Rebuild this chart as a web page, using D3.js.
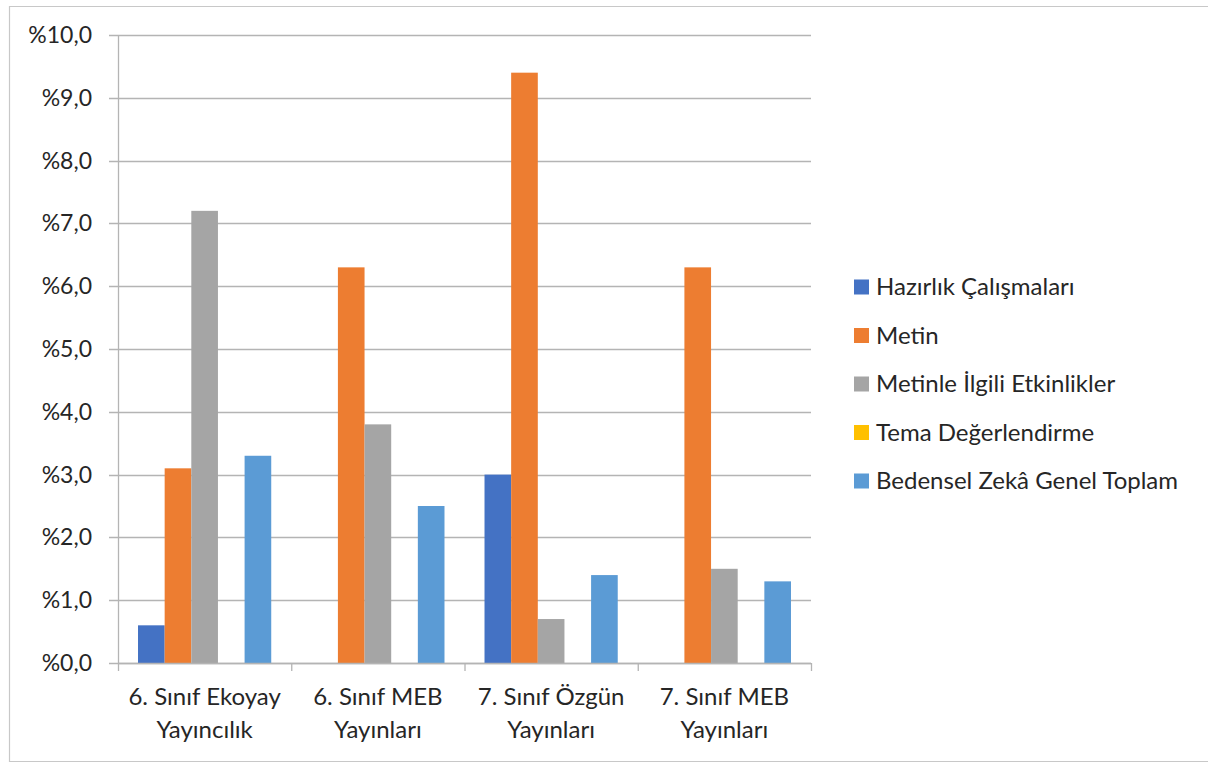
<!DOCTYPE html>
<html>
<head>
<meta charset="utf-8">
<script src="https://cdn.jsdelivr.net/npm/d3@7"></script>
<style>
  html, body { margin: 0; padding: 0; background: #fff; }
  svg { display: block; font-family: Lato, "Open Sans", sans-serif; }
</style>
</head>
<body>
<svg id="chart" width="1208" height="762"></svg>
<script>
// Kitap bazında bedensel zekâ etkinlik oranları (%)
const categories = [
  ["6. Sınıf Ekoyay", "Yayıncılık"],
  ["6. Sınıf MEB", "Yayınları"],
  ["7. Sınıf Özgün", "Yayınları"],
  ["7. Sınıf MEB", "Yayınları"]
];
const seriesNames = [
  "Hazırlık Çalışmaları",
  "Metin",
  "Metinle İlgili Etkinlikler",
  "Tema Değerlendirme",
  "Bedensel Zekâ Genel Toplam"
];
const hazirlik = [0.6, 0, 3.0, 0];
const metin = [3.1, 6.3, 9.4, 6.3];
const metinleIlgili = [7.2, 3.8, 0.7, 1.5];
const temaDegerlendirme = [0, 0, 0, 0];
const genelToplam = [3.3, 2.5, 1.4, 1.3];
const yTicks = [0, 1, 2, 3, 4, 5, 6, 7, 8, 9, 10];
const colors = ["#4472C4", "#ED7D31", "#A5A5A5", "#FFC000", "#5B9BD5"];

const seriesValues = [hazirlik, metin, metinleIlgili, temaDegerlendirme, genelToplam];

const svg = d3.select("#chart");

// outer frame
svg.append("path")
  .attr("d", "M1208,6.5 H9.5 V761.5 H1208")
  .attr("fill", "none")
  .attr("stroke", "#c8c8c8")
  .attr("stroke-width", 1.2);

const plot = { left: 118, right: 811, top: 35, bottom: 663 };

const x = d3.scaleBand()
  .domain(d3.range(categories.length))
  .range([plot.left, plot.right])
  .padding(0);

const groupPad = x.bandwidth() * 0.1155;
const xs = d3.scaleBand()
  .domain(d3.range(seriesNames.length))
  .range([groupPad, x.bandwidth() - groupPad])
  .padding(0);

const y = d3.scaleLinear().domain([0, 10]).range([plot.bottom, plot.top]);

const fmt = v => "%" + d3.format(".1f")(v).replace(".", ",");

// horizontal gridlines
svg.append("g")
  .selectAll("line")
  .data(yTicks)
  .join("line")
  .attr("x1", plot.left - 9)
  .attr("x2", plot.right)
  .attr("y1", d => Math.round(y(d)) + 0.5)
  .attr("y2", d => Math.round(y(d)) + 0.5)
  .attr("stroke", "#b4b4b4")
  .attr("stroke-width", 1.3);

// y axis labels
svg.append("g")
  .selectAll("text")
  .data(yTicks)
  .join("text")
  .attr("x", 92)
  .attr("y", d => y(d))
  .attr("dy", "0.35em")
  .attr("text-anchor", "end")
  .attr("font-size", 23)
  .attr("fill", "#262626")
  .text(fmt);

// vertical axis line
svg.append("line")
  .attr("x1", plot.left + 0.5).attr("x2", plot.left + 0.5)
  .attr("y1", plot.top).attr("y2", plot.bottom)
  .attr("stroke", "#b4b4b4").attr("stroke-width", 1.3);

// bars
const groups = svg.append("g")
  .selectAll("g")
  .data(categories.map((c, i) => i))
  .join("g")
  .attr("transform", i => `translate(${x(i)},0)`);

groups.selectAll("rect")
  .data(i => seriesValues.map((vals, s) => ({ s, v: vals[i] })))
  .join("rect")
  .attr("x", d => xs(d.s))
  .attr("width", xs.bandwidth())
  .attr("y", d => y(d.v))
  .attr("height", d => y(0) - y(d.v))
  .attr("fill", d => colors[d.s]);

// x axis baseline and ticks
svg.append("line")
  .attr("x1", plot.left).attr("x2", plot.right)
  .attr("y1", plot.bottom + 0.5).attr("y2", plot.bottom + 0.5)
  .attr("stroke", "#b4b4b4").attr("stroke-width", 1.3);
svg.append("g")
  .selectAll("line")
  .data(d3.range(categories.length + 1))
  .join("line")
  .attr("x1", i => (i < categories.length ? x(i) : plot.right) + 0.5)
  .attr("x2", i => (i < categories.length ? x(i) : plot.right) + 0.5)
  .attr("y1", plot.bottom)
  .attr("y2", plot.bottom + 8)
  .attr("stroke", "#b4b4b4").attr("stroke-width", 1.3);

// category labels (two lines)
svg.append("g")
  .selectAll("text")
  .data(categories.map((c, i) => ({ c, i })))
  .join("text")
  .attr("text-anchor", "middle")
  .attr("font-size", 24)
  .attr("fill", "#262626")
  .each(function(d) {
    const t = d3.select(this);
    d.c.forEach((line, k) => {
      t.append("tspan")
        .attr("x", x(d.i) + x.bandwidth() / 2)
        .attr("y", 705 + k * 33)
        .text(line);
    });
  });

// legend
const legend = svg.append("g")
  .selectAll("g")
  .data(seriesNames.map((n, s) => ({ n, s })))
  .join("g")
  .attr("transform", d => `translate(854,${287 + d.s * 48.5})`);

legend.append("rect")
  .attr("x", 0).attr("y", -7.5)
  .attr("width", 15).attr("height", 15)
  .attr("fill", d => colors[d.s]);

legend.append("text")
  .attr("x", 22)
  .attr("y", 0)
  .attr("dy", "0.35em")
  .attr("font-size", 24)
  .attr("fill", "#262626")
  .text(d => d.n);
</script>
</body>
</html>
